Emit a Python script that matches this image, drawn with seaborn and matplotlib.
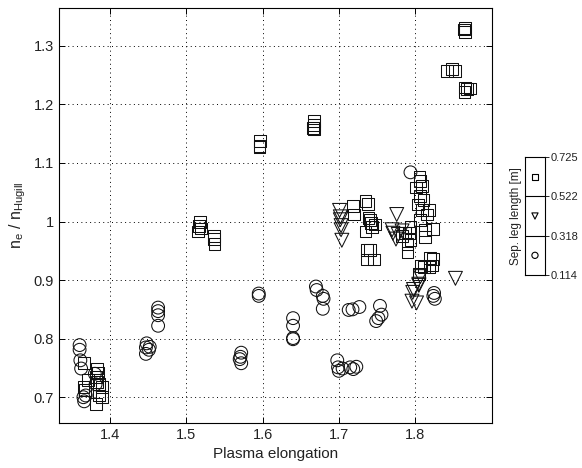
import matplotlib
matplotlib.use("Agg")
import matplotlib.pyplot as plt
import seaborn as sns
import pandas as pd

# ---- data ----
circle_x = [1.360, 1.360, 1.361, 1.362, 1.365, 1.366, 1.368, 1.380, 1.381,
            1.448, 1.447, 1.451, 1.447, 1.452, 1.463, 1.463, 1.463, 1.463,
            1.572, 1.571, 1.570, 1.572, 1.595, 1.595, 1.640, 1.640, 1.640, 1.640,
            1.670, 1.671, 1.679, 1.680, 1.679, 1.698, 1.699, 1.700, 1.705,
            1.713, 1.718, 1.727, 1.715, 1.723, 1.719, 1.754, 1.756, 1.749, 1.752,
            1.794, 1.824, 1.826, 1.825]
circle_y = [0.789, 0.781, 0.763, 0.749, 0.700, 0.693, 0.703, 0.740, 0.722,
            0.792, 0.785, 0.781, 0.774, 0.786, 0.853, 0.847, 0.840, 0.822,
            0.776, 0.769, 0.765, 0.758, 0.877, 0.873, 0.835, 0.822, 0.801, 0.799,
            0.889, 0.883, 0.873, 0.868, 0.851, 0.763, 0.751, 0.745, 0.749,
            0.849, 0.850, 0.854, 0.751, 0.752, 0.748, 0.856, 0.841, 0.830, 0.835,
            1.084, 0.873, 0.868, 0.878]

tri_x = [1.701, 1.702, 1.702, 1.703, 1.703, 1.704, 1.776, 1.770, 1.771, 1.778,
         1.775, 1.783, 1.798, 1.797, 1.796, 1.802, 1.805, 1.807, 1.853, 1.805]
tri_y = [1.019, 1.008, 1.003, 0.993, 0.986, 0.968, 1.012, 0.986, 0.980, 0.978,
         0.970, 0.984, 0.884, 0.879, 0.864, 0.861, 0.893, 0.906, 0.903, 0.891]

square_x = [1.864, 1.866, 1.866, 1.842, 1.848, 1.852, 1.866, 1.868, 1.872, 1.865,
            1.597, 1.596, 1.596, 1.667, 1.667, 1.666, 1.667,
            1.518, 1.517, 1.515, 1.519, 1.536, 1.536, 1.537,
            1.719, 1.720, 1.735, 1.738, 1.739, 1.742, 1.735, 1.748, 1.741, 1.744,
            1.737, 1.741, 1.737, 1.746,
            1.806, 1.807, 1.809, 1.801, 1.807, 1.811, 1.804, 1.809, 1.818, 1.816,
            1.807, 1.794, 1.792, 1.794, 1.787, 1.783, 1.790, 1.813, 1.824, 1.813,
            1.820, 1.824, 1.808, 1.812, 1.819, 1.822, 1.805, 1.790,
            1.366, 1.383, 1.384, 1.382, 1.365, 1.367, 1.385, 1.389, 1.382, 1.385,
            1.389, 1.383, 1.371]
square_y = [1.328, 1.323, 1.331, 1.257, 1.260, 1.257, 1.229, 1.226, 1.227, 1.221,
            1.137, 1.129, 1.127, 1.171, 1.165, 1.160, 1.157,
            0.999, 0.993, 0.983, 0.988, 0.975, 0.970, 0.961,
            1.026, 1.012, 1.035, 1.030, 1.006, 0.997, 0.983, 0.995, 1.002, 0.990,
            0.952, 0.952, 0.935, 0.935,
            1.077, 1.069, 1.061, 1.058, 1.043, 1.037, 1.029, 1.020, 1.020, 1.012,
            1.003, 0.990, 0.980, 0.969, 0.980, 0.975, 0.961, 0.986, 0.987, 0.973,
            0.938, 0.936, 0.924, 0.922, 0.922, 0.925, 0.910, 0.947,
            0.758, 0.749, 0.742, 0.735, 0.717, 0.712, 0.723, 0.717, 0.688, 0.703,
            0.700, 0.726, 0.729]

x_ticks = [1.4, 1.5, 1.6, 1.7, 1.8]
y_ticks = [0.7, 0.8, 0.9, 1.0, 1.1, 1.2, 1.3]
y_tick_labels = ["0.7", "0.8", "0.9", "1", "1.1", "1.2", "1.3"]
leg_bounds = ["0.114", "0.318", "0.522", "0.725"]

# ---- plot ----
sns.set_style("white")
plt.rcParams['font.family'] = ['Liberation Sans', 'DejaVu Sans']
plt.rcParams['mathtext.fontset'] = 'custom'
plt.rcParams['mathtext.rm'] = 'Liberation Sans'
plt.rcParams['mathtext.it'] = 'Liberation Sans'

fig = plt.figure(figsize=(5.82, 4.68), dpi=100)
ax = fig.add_axes([0.1014, 0.0962, 0.744, 0.886])

groups = [
    (circle_x, circle_y, 'o', 85),
    (tri_x, tri_y, 'v', 100),
    (square_x, square_y, 's', 72),
]
for gx, gy, m, s in groups:
    df = pd.DataFrame({"x": gx, "y": gy})
    sns.scatterplot(data=df, x="x", y="y", marker=m, s=s, ax=ax,
                    color="black", facecolor="none", edgecolor="#111111",
                    linewidth=0.75, legend=False, zorder=3)

ax.set_xlim(1.333, 1.901)
ax.set_ylim(0.656, 1.364)
ax.set_xticks(x_ticks)
ax.set_xticklabels([f"{v:g}" for v in x_ticks])
ax.set_yticks(y_ticks)
ax.set_yticklabels(y_tick_labels)
ax.grid(True, color="black", linestyle=(0, (1, 3.5)), linewidth=0.7)
ax.tick_params(direction="in", length=4, width=0.7, labelsize=10.5,
               labelcolor="#222222", color="black", top=True, right=True,
               bottom=True, left=True)
for sp in ax.spines.values():
    sp.set_color("black")
    sp.set_linewidth(0.8)
ax.set_xlabel("Plasma elongation", fontsize=11, color="#222222")
ax.set_ylabel(r"$\mathregular{n_e\ /\ n_{Hugill}}$", fontsize=11.5, color="#222222")

# ---- legend bar ----
lax = fig.add_axes([0.902, 0.4124, 0.0344, 0.2521])
lax.set_xlim(0, 1)
lax.set_ylim(0, 3)
for b in [1, 2]:
    lax.axhline(b, color="black", linewidth=0.8)
cell_markers = ['o', 'v', 's']
for i, m in enumerate(cell_markers):
    lax.scatter([0.5], [i + 0.5], marker=m, s=20, facecolor="none",
                edgecolor="black", linewidth=0.8)
lax.set_xticks([])
lax.yaxis.tick_right()
lax.set_yticks([0, 1, 2, 3])
lax.set_yticklabels(leg_bounds)
lax.tick_params(axis="y", direction="out", length=3, width=0.7, pad=1,
                labelsize=8, labelcolor="#222222", right=True, left=False)
for sp in lax.spines.values():
    sp.set_color("black")
    sp.set_linewidth(0.8)
lax.yaxis.set_label_position("left")
lax.set_ylabel("Sep. leg length [m]", fontsize=8.5, color="#222222", labelpad=2)

fig.savefig("out.png", dpi=100)
